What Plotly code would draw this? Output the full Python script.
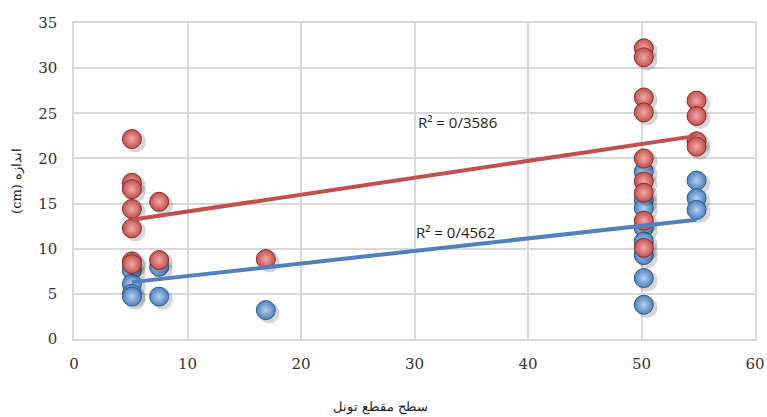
import plotly.graph_objects as go

# Blue series (lower group)
blue_x = [5.1, 5.1, 5.1, 5.1, 7.5, 7.5, 16.9,
          50.2, 50.2, 50.2, 50.2, 50.2, 50.2, 50.2, 50.2,
          54.85, 54.85, 54.85]
blue_y = [7.6, 6.1, 5.0, 4.7, 8.0, 4.7, 3.2,
          18.55, 15.4, 14.5, 12.3, 10.8, 9.3, 6.75, 3.8,
          17.55, 15.6, 14.3]

# Red series (upper group)
red_x = [5.1, 5.1, 5.1, 5.1, 5.1, 5.1, 5.1, 7.5, 7.5, 16.9,
         50.2, 50.2, 50.2, 50.2, 50.2, 50.2, 50.2, 50.2, 50.2,
         54.85, 54.85, 54.85, 54.85]
red_y = [22.15, 17.3, 16.6, 14.4, 12.25, 8.6, 8.3, 15.2, 8.75, 8.85,
         32.2, 31.2, 26.75, 25.1, 20.0, 17.45, 16.2, 13.1, 10.1,
         26.4, 24.7, 21.9, 21.3]

# Linear trendlines: values at the first and last x of each series
trend_x = [5.1, 54.85]
red_trend_y = [13.2, 22.5]
blue_trend_y = [6.3, 13.2]

r2_labels = ["R² = 0/3586", "R² = 0/4562"]

RED = "#C0504D"
BLUE = "#4F81BD"
SERIF = "DejaVu Serif"

fig = go.Figure()

for xs, ys, base, hi, edge in [
    (blue_x, blue_y, BLUE, "#b4d0f4", "#2d5a8c"),
    (red_x, red_y, RED, "#f4aaa8", "#8c2b29"),
]:
    # soft drop shadow under each ball
    fig.add_trace(go.Scatter(
        x=[v + 0.3 for v in xs], y=[v - 0.3 for v in ys], mode="markers",
        marker=dict(size=21, color="rgba(0,0,0,0.16)", line=dict(width=0)),
        hoverinfo="skip", showlegend=False))
    fig.add_trace(go.Scatter(
        x=xs, y=ys, mode="markers",
        marker=dict(size=19, color=base,
                    gradient=dict(type="radial", color=hi),
                    line=dict(width=1, color=edge)),
        showlegend=False))

for ty, c in [(red_trend_y, RED), (blue_trend_y, BLUE)]:
    fig.add_trace(go.Scatter(x=trend_x, y=ty, mode="lines",
                             line=dict(color=c, width=4),
                             showlegend=False))

fig.add_annotation(x=33.8, y=24.0, text=r2_labels[0], showarrow=False,
                   font=dict(family="Open Sans", size=15, color="#222"))
fig.add_annotation(x=33.6, y=11.8, text=r2_labels[1], showarrow=False,
                   font=dict(family="Open Sans", size=15, color="#222"))

fig.add_annotation(xref="paper", yref="paper", x=0.45, y=-0.215,
                   text="سطح مقطع تونل", showarrow=False,
                   xanchor="center", yanchor="middle",
                   font=dict(family=SERIF, size=13, color="#222"))

grid = "#D9D9D9"
tickfont = dict(family=SERIF, size=15, color="#333")

fig.update_xaxes(range=[0, 60], dtick=10, showgrid=True, gridcolor=grid,
                 gridwidth=1.5, zeroline=False, showline=True,
                 linecolor=grid, linewidth=1.5, tickfont=tickfont,
                 ticks="", ticklabelstandoff=10, mirror=True,
                 automargin=False)
fig.update_yaxes(range=[0, 35], dtick=5, showgrid=True, gridcolor=grid,
                 gridwidth=1.5, zeroline=False, showline=True,
                 linecolor=grid, linewidth=1.5, tickfont=tickfont,
                 ticks="", ticklabelstandoff=12, mirror=True,
                 automargin=False,
                 title=dict(text="\u202Bاندازه (cm)\u202C", standoff=14,
                            font=dict(family=SERIF, size=13, color="#222")))

fig.update_layout(width=767, height=417,
                  margin=dict(l=74, r=12, t=23, b=78),
                  paper_bgcolor="white", plot_bgcolor="white")

fig.write_html("out.html")
